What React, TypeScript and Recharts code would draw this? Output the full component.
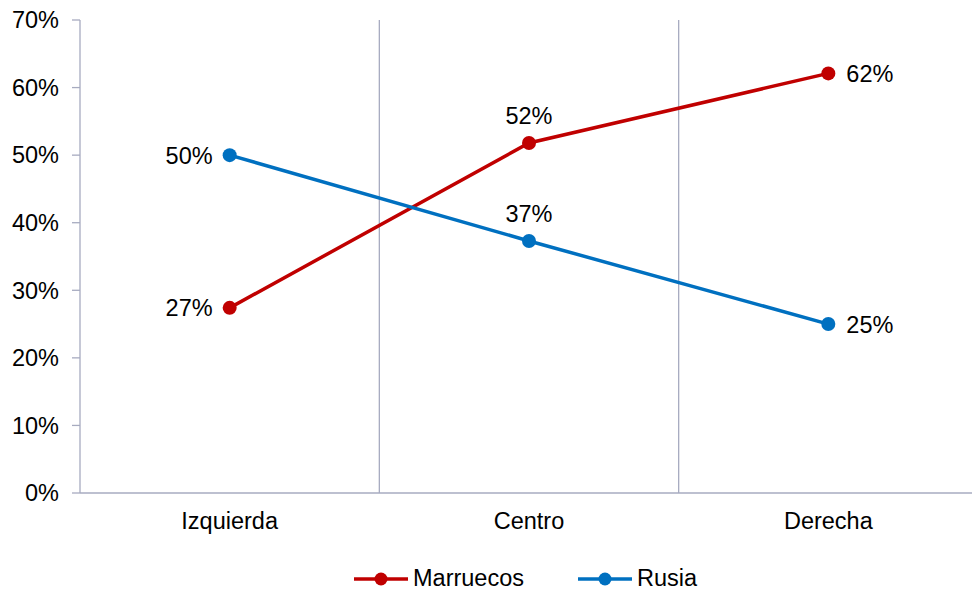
import React from "react";
import { LineChart, Line, XAxis, YAxis, ReferenceLine, Legend, LabelList } from "recharts";

const categories = ["Izquierda", "Centro", "Derecha"];
const marruecos = [0.274, 0.518, 0.621];
const rusia = [0.5, 0.373, 0.25];
const yTicks = [0, 0.1, 0.2, 0.3, 0.4, 0.5, 0.6, 0.7];
const bandEdges = [0, 1, 2, 3];
const marruecosLabelPos = ["left", "top", "right"];
const rusiaLabelPos = ["left", "top", "right"];

const data = categories.map((c, i) => ({ cat: c, edge: i + 0.5, Marruecos: marruecos[i], Rusia: rusia[i] }));

const FONT = "'Liberation Sans', Arial, sans-serif";
const AXIS = "#A7ABC0";
const RED = "#C00000";
const BLUE = "#0070C0";

const pct = (v: number) => `${Math.round(v * 100)}%`;

const makeLabel = (positions: string[]) => (props: any) => {
  const { x, y, value, index } = props;
  const pos = positions[index];
  let tx = x;
  let ty = y;
  let anchor: "start" | "middle" | "end" = "middle";
  if (pos === "left") {
    tx = x - 17;
    anchor = "end";
  } else if (pos === "right") {
    tx = x + 18;
    anchor = "start";
  } else {
    ty = y - 27;
  }
  return (
    <text x={tx} y={ty} dy="0.36em" textAnchor={anchor} fontSize={23.5} fontFamily={FONT} fill="#000">
      {pct(value)}
    </text>
  );
};

const LegendContent = () => {
  const items = [
    { name: "Marruecos", color: RED },
    { name: "Rusia", color: BLUE },
  ];
  return (
    <div style={{ display: "flex", justifyContent: "flex-start", paddingLeft: 354, paddingTop: 27, fontFamily: FONT, fontSize: 23.5 }}>
      {items.map((it, i) => (
        <div key={it.name} style={{ display: "flex", alignItems: "center", marginRight: i === 0 ? 54 : 0 }}>
          <svg width={54} height={20} style={{ marginRight: 5 }}>
            <line x1={0} y1={10} x2={54} y2={10} stroke={it.color} strokeWidth={3.5} />
            <circle cx={27} cy={10} r={6.5} fill={it.color} />
          </svg>
          <span style={{ color: "#000" }}>{it.name}</span>
        </div>
      ))}
    </div>
  );
};

export default function App() {
  return (
    <div style={{ position: "absolute", left: 0, top: 0, width: 972, height: 590, overflow: "hidden", background: "#fff" }}>
      <LineChart width={980} height={590} data={data} margin={{ top: 20, right: 2, left: 0, bottom: 0 }}>
        <XAxis
          xAxisId="b"
          dataKey="cat"
          type="category"
          scale="band"
          height={44}
          tickSize={0}
          tickMargin={18}
          tickLine={false}
          axisLine={false}
          tick={{ fill: "#000", fontSize: 23.5, fontFamily: FONT }}
        />
        <XAxis
          xAxisId="a"
          dataKey="edge"
          type="number"
          domain={[0, 3]}
          ticks={bandEdges}
          orientation="bottom"
          height={1}
          tick={false}
          tickSize={7}
          tickLine={{ stroke: AXIS, strokeWidth: 1.3 }}
          axisLine={{ stroke: AXIS, strokeWidth: 1.3 }}
          interval={0}
        />
        <YAxis
          width={80}
          domain={[0, 0.7]}
          ticks={yTicks}
          tickFormatter={pct}
          tickSize={8}
          tickMargin={13}
          tickLine={{ stroke: AXIS, strokeWidth: 1.3 }}
          axisLine={{ stroke: AXIS, strokeWidth: 1.3 }}
          tick={{ fill: "#000", fontSize: 23.5, fontFamily: FONT }}
          interval={0}
        />
        {bandEdges.slice(1).map((e) => (
          <ReferenceLine key={e} xAxisId="a" x={e} stroke={AXIS} strokeWidth={1.3} />
        ))}
        <Legend verticalAlign="bottom" height={52} content={<LegendContent />} />
        <Line
          xAxisId="b"
          dataKey="Marruecos"
          stroke={RED}
          strokeWidth={3.5}
          dot={{ r: 7, fill: RED, stroke: RED, strokeWidth: 0 }}
          isAnimationActive={false}
        >
          <LabelList dataKey="Marruecos" content={makeLabel(marruecosLabelPos)} />
        </Line>
        <Line
          xAxisId="b"
          dataKey="Rusia"
          stroke={BLUE}
          strokeWidth={3.5}
          dot={{ r: 7, fill: BLUE, stroke: BLUE, strokeWidth: 0 }}
          isAnimationActive={false}
        >
          <LabelList dataKey="Rusia" content={makeLabel(rusiaLabelPos)} />
        </Line>
      </LineChart>
    </div>
  );
}
